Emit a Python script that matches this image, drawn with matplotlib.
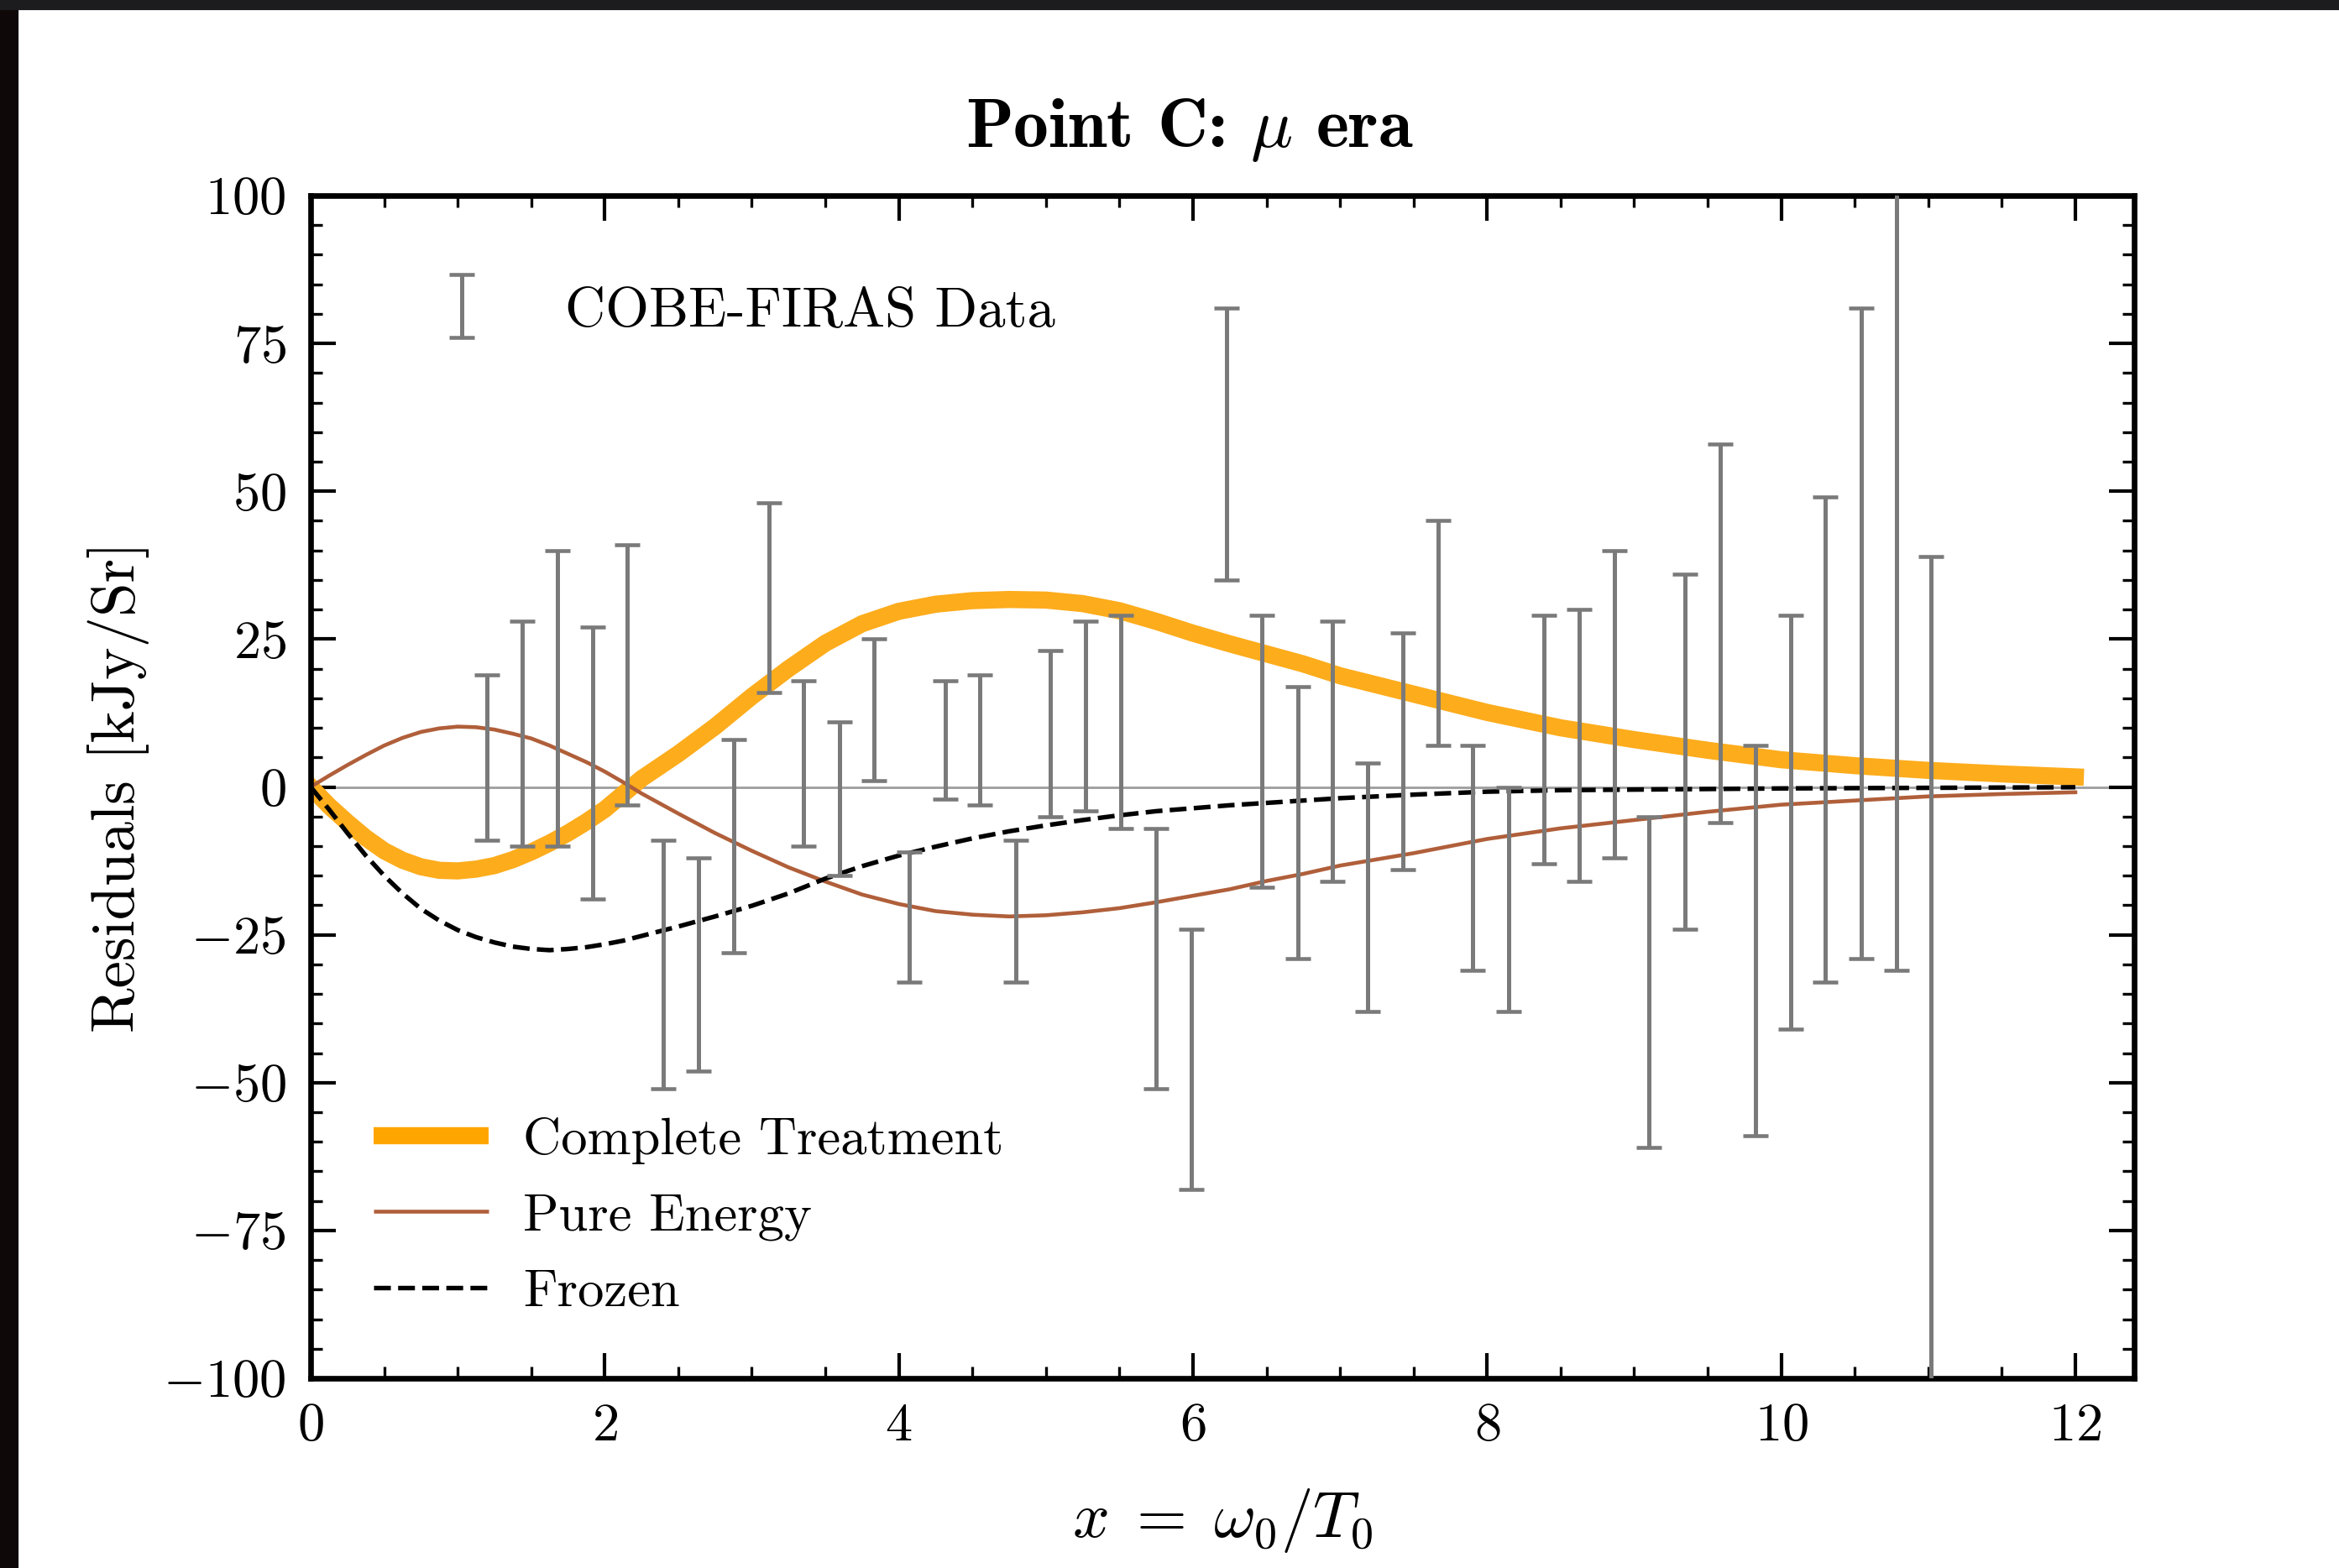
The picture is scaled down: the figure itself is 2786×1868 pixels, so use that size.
import numpy as np
import matplotlib
matplotlib.use('Agg')
import matplotlib.pyplot as plt
from matplotlib.lines import Line2D
from matplotlib.patches import Rectangle
from matplotlib.ticker import MultipleLocator
from matplotlib.container import ErrorbarContainer
from matplotlib.legend_handler import HandlerErrorbar

plt.rcParams['font.family'] = 'serif'
plt.rcParams['font.serif'] = ['cmr10']
plt.rcParams['mathtext.fontset'] = 'cm'
plt.rcParams['axes.formatter.use_mathtext'] = True

# COBE-FIRAS residuals, x = h nu / k T0
x_firas = [1.199, 1.436, 1.679, 1.917, 2.154, 2.397, 2.635, 2.878, 3.115, 3.353,
           3.596, 3.833, 4.071, 4.314, 4.551, 4.794, 5.032, 5.269, 5.512, 5.750,
           5.987, 6.230, 6.468, 6.711, 6.948, 7.186, 7.429, 7.666, 7.904, 8.147,
           8.384, 8.627, 8.865, 9.103, 9.345, 9.583, 9.826, 10.063, 10.301, 10.544,
           10.782, 11.019, 11.262]
res_firas = [5, 9, 15, 4, 19, -30, -30, -10, 32, 4, -2, 13, -22, 8, 8, -21, 9, 12, 11, -29,
             -46, 58, 6, -6, 6, -17, 6, 26, -12, -19, 8, 7, 14, -33, 6, 26, -26, -6, 8, 26,
             57, -116, -432]
err_firas = [14, 19, 25, 23, 22, 21, 18, 18, 16, 14, 13, 12, 11, 10, 11, 12, 14, 16, 18, 22,
             22, 23, 23, 23, 22, 21, 20, 19, 19, 19, 21, 23, 26, 28, 30, 32, 33, 35, 41, 55,
             88, 155, 282]

# model curves
x_curve = [0, 0.125, 0.25, 0.375, 0.5, 0.625, 0.75, 0.875, 1.0, 1.125, 1.25, 1.375, 1.5,
           1.625, 1.75, 1.875, 2.0, 2.125, 2.25, 2.5, 2.75, 3.0, 3.25, 3.5, 3.75, 4.0, 4.25,
           4.5, 4.75, 5.0, 5.25, 5.5, 5.75, 6.0, 6.25, 6.5, 6.75, 7.0, 7.5, 8.0, 8.5, 9.0,
           9.5, 10.0, 10.5, 11.0, 11.5, 12.0]
complete = [0, -3.2, -6.0, -8.6, -10.8, -12.4, -13.5, -14.1, -14.2, -13.9, -13.3, -12.3,
            -11.0, -9.5, -7.8, -5.9, -3.8, -1.2, 1.4, 5.6, 10.2, 15.3, 20.0, 24.3, 27.6,
            29.7, 30.9, 31.5, 31.7, 31.6, 31.0, 29.8, 28.0, 26.0, 24.2, 22.5, 20.8, 18.8,
            15.7, 12.6, 10.0, 8.0, 6.2, 4.6, 3.6, 2.8, 2.2, 1.7]
pure_energy = [0, 1.9, 3.7, 5.4, 7.0, 8.3, 9.3, 9.9, 10.2, 10.1, 9.7, 9.0, 8.2, 7.0, 5.6,
               4.2, 2.6, 0.8, -1.1, -4.5, -7.8, -10.8, -13.6, -16.0, -18.2, -19.8, -21.0,
               -21.6, -21.9, -21.7, -21.2, -20.5, -19.5, -18.4, -17.3, -15.9, -14.7, -13.3,
               -11.2, -8.8, -7.0, -5.6, -4.2, -3.0, -2.3, -1.6, -1.2, -0.9]
frozen = [0, -3.8, -7.8, -11.6, -15.0, -18.0, -20.6, -22.6, -24.2, -25.4, -26.3, -27.0,
          -27.4, -27.6, -27.4, -27.1, -26.6, -26.0, -25.2, -23.6, -21.9, -20.1, -18.0,
          -15.5, -13.4, -11.6, -10.1, -8.7, -7.5, -6.5, -5.6, -4.8, -4.1, -3.6, -3.1, -2.7,
          -2.3, -1.9, -1.3, -0.8, -0.55, -0.45, -0.35, -0.25, -0.2, -0.15, -0.1, -0.05]

c_orange = '#fdac1c'
c_brown = '#b05f3a'
c_gray = '#7a7a7a'

W, H = 2787, 1868
fig = plt.figure(figsize=(W / 300, H / 300), dpi=300)
ax = fig.add_axes([370 / W, 1 - 1642 / H, 2172 / W, 1409 / H])

ax.axhline(0, color='#a0a0a0', lw=0.7, zorder=1)
ax.plot(x_curve, complete, color=c_orange, lw=4.9, zorder=2, solid_joinstyle='round')
ax.plot(x_curve, pure_energy, color=c_brown, lw=1.1, zorder=2, solid_joinstyle='round')
ax.plot(x_curve, frozen, color='black', lw=1.3, ls='--', zorder=2)
eb = ax.errorbar(x_firas, res_firas, yerr=err_firas, fmt='none', ecolor=c_gray,
                 elinewidth=1.2, capsize=3.6, capthick=1.1, zorder=4)

ax.set_xlim(0, 12.4)
ax.set_ylim(-100, 100)
ax.xaxis.set_major_locator(MultipleLocator(2))
ax.xaxis.set_minor_locator(MultipleLocator(0.5))
ax.yaxis.set_major_locator(MultipleLocator(25))
ax.yaxis.set_minor_locator(MultipleLocator(5))
ax.tick_params(which='both', direction='in', top=True, right=True, labelsize=15.5, pad=7)
ax.tick_params(which='major', length=7.2, width=1.0)
ax.tick_params(which='minor', length=3.4, width=0.8)
for s in ax.spines.values():
    s.set_linewidth(1.6)

ax.set_xlabel(r'$x\;=\;\omega_0/T_0$', fontsize=18.5, labelpad=10)
ax.set_ylabel('Residuals [kJy/Sr]', fontsize=17.5, labelpad=4)
ax.set_title(r'Point C: $\mu$ era', fontfamily='cmb10', fontsize=20, pad=14, x=0.482)

leg1 = ax.legend([eb], ['COBE-FIRAS Data'], loc='center left', bbox_to_anchor=(0.040, 0.902),
                 borderaxespad=0, frameon=False, fontsize=16, handlelength=2.0,
                 handletextpad=0.84, handler_map={ErrorbarContainer: HandlerErrorbar(yerr_size=0.56)})
ax.add_artist(leg1)

handles = [Line2D([], [], color='#ffa500', lw=4.9, solid_capstyle='butt'),
           Line2D([], [], color=c_brown, lw=1.1, solid_capstyle='butt'),
           Line2D([], [], color='black', lw=1.3, ls='--')]
ax.legend(handles, ['Complete Treatment', 'Pure Energy', 'Frozen'], loc='lower left',
          bbox_to_anchor=(0.023, 0.035), borderaxespad=0,
          frameon=False, fontsize=15, handlelength=2.2, handletextpad=0.65,
          labelspacing=0.55)

# dark screenshot edges
fig.add_artist(Rectangle((0, 0), 20 / W, 1, transform=fig.transFigure,
                         color='#0e0809', zorder=10))
fig.add_artist(Rectangle((0, 1 - 10 / H), 1, 10 / H, transform=fig.transFigure,
                         color='#1c1c1e', zorder=10))

fig.savefig('out.png', dpi=300)
